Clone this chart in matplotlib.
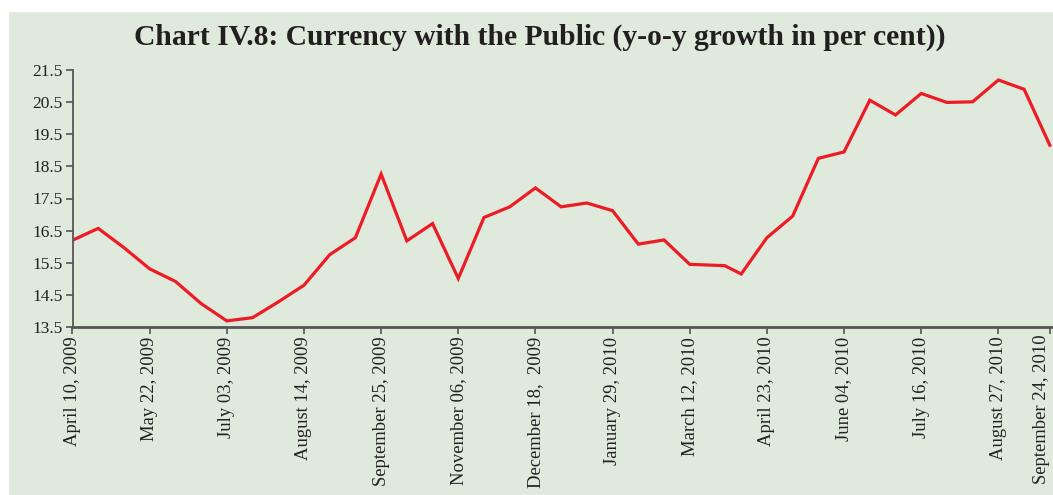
import matplotlib.pyplot as plt
import matplotlib.patches as patches
import matplotlib.dates as mdates
import pandas as pd

dates = ["2009-04-10", "2009-04-24", "2009-05-08", "2009-05-22", "2009-06-05",
         "2009-06-19", "2009-07-03", "2009-07-17", "2009-07-31", "2009-08-14",
         "2009-08-28", "2009-09-11", "2009-09-25", "2009-10-09", "2009-10-23",
         "2009-11-06", "2009-11-20", "2009-12-04", "2009-12-18", "2010-01-01",
         "2010-01-15", "2010-01-29", "2010-02-12", "2010-02-26", "2010-03-12",
         "2010-03-31", "2010-04-09", "2010-04-23", "2010-05-07", "2010-05-21",
         "2010-06-04", "2010-06-18", "2010-07-02", "2010-07-16", "2010-07-30",
         "2010-08-13", "2010-08-27", "2010-09-10", "2010-09-24"]
growth = [16.20, 16.57, 15.97, 15.31, 14.92, 14.23, 13.69, 13.79, 14.28, 14.80,
          15.75, 16.28, 18.26, 16.18, 16.72, 15.01, 16.91, 17.24, 17.83, 17.24,
          17.36, 17.12, 16.08, 16.21, 15.45, 15.41, 15.15, 16.28, 16.95, 18.75,
          18.95, 20.56, 20.10, 20.77, 20.49, 20.51, 21.19, 20.90, 19.16]

tick_dates = ["2009-04-10", "2009-05-22", "2009-07-03", "2009-08-14", "2009-09-25",
              "2009-11-06", "2009-12-18", "2010-01-29", "2010-03-12", "2010-04-23",
              "2010-06-04", "2010-07-16", "2010-08-27", "2010-09-24"]
tick_labels = ["April 10, 2009", "May 22, 2009", "July 03, 2009", "August 14, 2009",
               "September 25, 2009", "November 06, 2009", "December 18,  2009",
               "January 29, 2010", "March 12, 2010", "April 23, 2010", "June 04, 2010",
               "July 16, 2010", "August 27, 2010", "September 24, 2010"]
yticks = [13.5, 14.5, 15.5, 16.5, 17.5, 18.5, 19.5, 20.5, 21.5]

bg = "#dfe9dc"
spine_col = "#555555"
plt.rcParams["font.family"] = ["Liberation Serif", "DejaVu Serif"]

fig = plt.figure(figsize=(10.53, 4.95), dpi=100)
fig.patch.set_facecolor(bg)
# white strips along the top and left edge
fig.patches.append(patches.Rectangle((0, 1 - 11 / 495), 1, 11 / 495,
                                     transform=fig.transFigure, color="white", zorder=-1))
fig.patches.append(patches.Rectangle((0, 0), 8 / 1053, 1,
                                     transform=fig.transFigure, color="white", zorder=-1))

ax = fig.add_axes([72.5 / 1053, 1 - 327 / 495, 981 / 1053, (327 - 70) / 495])
ax.set_facecolor(bg)

x = pd.to_datetime(dates)
ax.plot(x, growth, color="#ed1c24", linewidth=2.3, solid_joinstyle="miter")

ax.set_ylim(13.5, 21.5)
ax.set_yticks(yticks)
ax.set_yticklabels([f"{v:.1f}" for v in yticks], fontsize=12.5, color="#222222")
ax.set_xlim(pd.Timestamp("2009-04-10"), pd.Timestamp("2009-04-10") + pd.Timedelta(days=534))
ax.set_xticks(pd.to_datetime(tick_dates))
ax.set_xticklabels(tick_labels[:-1] + [""], rotation=90, fontsize=13.4, color="#222222")

# last label sits a little left of the axis end, as in the source
last_x = mdates.date2num(pd.Timestamp(tick_dates[-1]))
ax.annotate(tick_labels[-1], xy=(last_x, 0),
            xycoords=ax.get_xaxis_transform(), xytext=(-6, -5), textcoords="offset points",
            rotation=90, ha="center", va="top", fontsize=13.4, color="#222222",
            annotation_clip=False)

for s in ["top", "right"]:
    ax.spines[s].set_visible(False)
for s in ["left", "bottom"]:
    ax.spines[s].set_color(spine_col)
ax.spines["left"].set_linewidth(1.3)
ax.spines["bottom"].set_linewidth(2.0)
ax.tick_params(axis="both", direction="out", length=5, width=1.2, color=spine_col, pad=2)

fig.text(0.513, 0.925, "Chart IV.8: Currency with the Public (y-o-y growth in per cent))",
         ha="center", va="center", fontsize=21.3, fontweight="bold", color="#231f20")

fig.savefig("out.png", dpi=100, facecolor=fig.get_facecolor())
